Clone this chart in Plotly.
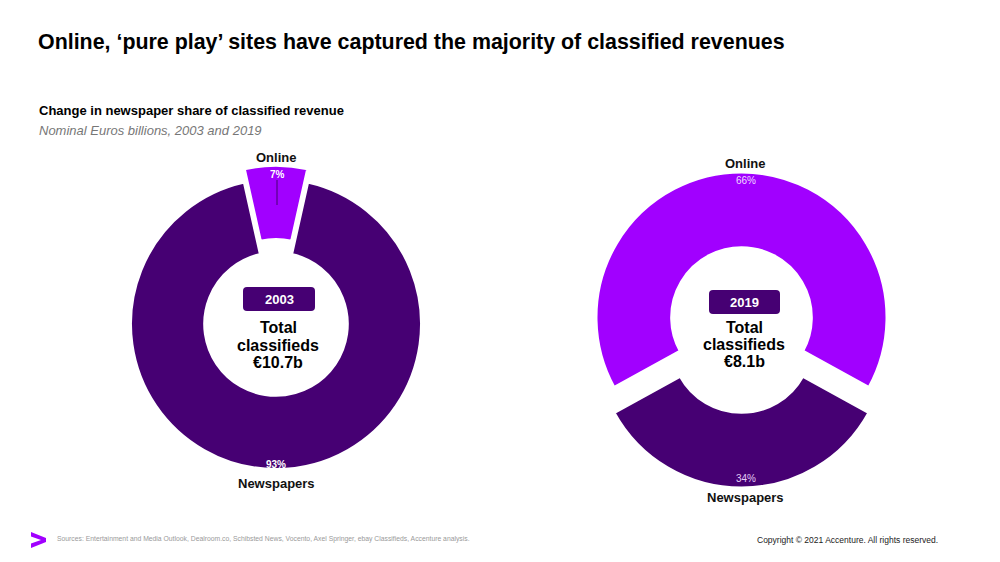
import plotly.graph_objects as go

# ---- data ----
categories = ["Online", "Newspapers"]
share_2003 = [7, 93]
share_2019 = [66, 34]
years = ["2003", "2019"]
totals = ["€10.7b", "€8.1b"]
colors = ["#A100FF", "#460073"]

W, H = 1000, 562
def px(x):
    return x / W
def py(y):
    return 1 - y / H

fig = go.Figure()

# left donut: center (276,324), r 145.5
pull_l = 0.09
r = 145.5
box = r * (2 + 2 * pull_l) / 2
cx, cy = 276, 324
fig.add_trace(go.Pie(
    labels=categories, values=share_2003, sort=False, direction="clockwise",
    rotation=-share_2003[0] * 3.6 / 2, hole=0.49, pull=[pull_l, 0],
    marker=dict(colors=colors, line=dict(color="white", width=3)),
    textinfo="none", hoverinfo="label+percent", showlegend=False,
    domain=dict(x=[px(cx - box), px(cx + box)], y=[py(cy + box), py(cy - box)]),
))

pull_r = 0.086
box = r * (2 + 2 * pull_r) / 2
cx2, cy2 = 741.5, 330
fig.add_trace(go.Pie(
    labels=categories, values=share_2019, sort=False, direction="clockwise",
    rotation=-share_2019[0] * 3.6 / 2, hole=0.48, pull=[pull_r, pull_r],
    marker=dict(colors=colors, line=dict(color="white", width=3)),
    textinfo="none", hoverinfo="label+percent", showlegend=False,
    domain=dict(x=[px(cx2 - box), px(cx2 + box)], y=[py(cy2 + box), py(cy2 - box)]),
))

FONT = "Liberation Sans, Arial, sans-serif"
ann = []
def txt(x, y, t, size, color="#000", bold=False, italic=False, xanchor="center"):
    if bold:
        t = f"<b>{t}</b>"
    if italic:
        t = f"<i>{t}</i>"
    ann.append(dict(x=px(x), y=py(y), xref="paper", yref="paper", text=t,
                    showarrow=False, xanchor=xanchor, yanchor="middle",
                    font=dict(family=FONT, size=size, color=color)))

# titles
txt(36, 42, "Online, ‘pure play’ sites have captured the majority of classified revenues", 21.4, "#000", bold=True, xanchor="left")
txt(37, 111, "Change in newspaper share of classified revenue", 13, "#000", bold=True, xanchor="left")
txt(37, 130, "Nominal Euros billions, 2003 and 2019", 13, "#777", italic=True, xanchor="left")

# left donut labels
txt(276, 157, categories[0], 13, "#111", bold=True)
txt(277, 174, f"{share_2003[0]}%", 10, "#fff", bold=True)
txt(276, 464, f"{share_2003[1]}%", 10, "#fff", bold=True)
txt(276, 483, categories[1], 13, "#111", bold=True)

# right donut labels
txt(745, 164, categories[0], 13, "#111", bold=True)
txt(746, 180, f"{share_2019[0]}%", 10, "#f0dcff")
txt(746, 478, f"{share_2019[1]}%", 10, "#e2ccf5")
txt(745, 497, categories[1], 13, "#111", bold=True)

# centers
shapes = []
def rbox(x0, y0, x1, y1, rad=4):
    X0, X1 = px(x0), px(x1)
    Y0, Y1 = py(y0), py(y1)
    rx, ry = rad / W, rad / H
    path = (f"M {X0+rx},{Y0} L {X1-rx},{Y0} Q {X1},{Y0} {X1},{Y0-ry} "
            f"L {X1},{Y1+ry} Q {X1},{Y1} {X1-rx},{Y1} L {X0+rx},{Y1} "
            f"Q {X0},{Y1} {X0},{Y1+ry} L {X0},{Y0-ry} Q {X0},{Y0} {X0+rx},{Y0} Z")
    shapes.append(dict(type="path", xref="paper", yref="paper", path=path,
                       fillcolor="#460073", line=dict(width=0)))

rbox(243, 287, 315, 311)
rbox(709, 290, 780, 314)
txt(279, 299, years[0], 13, "#fff", bold=True)
txt(744.5, 302, years[1], 13, "#fff", bold=True)
for (x, ys, tot) in [(278, (327, 345, 362), totals[0]), (744, (327, 344, 361), totals[1])]:
    txt(x, ys[0], "Total", 16, "#000", bold=True)
    txt(x, ys[1], "classifieds", 16, "#000", bold=True)
    txt(x, ys[2], tot, 16, "#000", bold=True)

# small leader line inside 7% slice
shapes.append(dict(type="line", xref="paper", yref="paper",
                   x0=px(277), x1=px(277), y0=py(180), y1=py(205),
                   line=dict(color="#460073", width=1)))

# footer logo chevron
logo = (f"M {px(31)},{py(532)} L {px(46)},{py(538)} L {px(46)},{py(542)} L {px(31)},{py(548)} "
        f"L {px(31)},{py(543.5)} L {px(41)},{py(540)} L {px(31)},{py(536.5)} Z")
shapes.append(dict(type="path", xref="paper", yref="paper", path=logo,
                   fillcolor="#A100FF", line=dict(width=0)))
txt(55, 539, "Sources: Entertainment and Media Outlook, Dealroom.co, Schibsted News, Vocento, Axel Springer, ebay Classifieds, Accenture analysis.", 6.8, "#9a9a9a", xanchor="left")
txt(755, 540, "Copyright © 2021 Accenture. All rights reserved.", 8.5, "#222", xanchor="left")

fig.update_layout(
    width=W, height=H, margin=dict(l=0, r=0, t=0, b=0),
    paper_bgcolor="white", plot_bgcolor="white",
    annotations=ann, shapes=shapes, showlegend=False,
)
fig.write_html("out.html", config={"displayModeBar": False},
               post_script="document.body.style.margin='0';document.body.style.overflow='hidden';")
